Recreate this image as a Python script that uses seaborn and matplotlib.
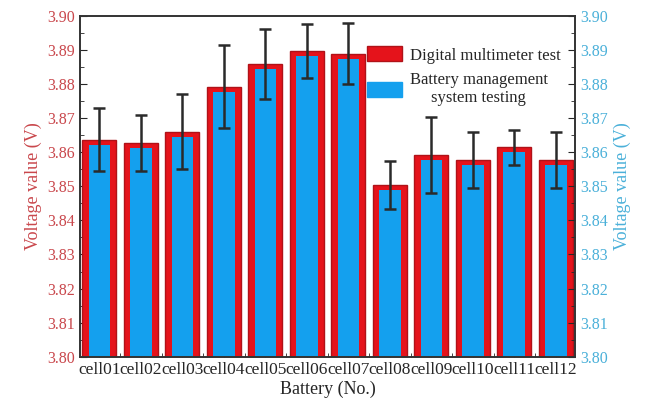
import matplotlib
matplotlib.use("Agg")
import matplotlib.pyplot as plt
from matplotlib.ticker import MultipleLocator, FormatStrFormatter
from matplotlib.patches import Patch
import seaborn as sns
import pandas as pd

# data
cells = ["cell01", "cell02", "cell03", "cell04", "cell05", "cell06",
         "cell07", "cell08", "cell09", "cell10", "cell11", "cell12"]
multimeter = [3.8637, 3.8628, 3.8661, 3.8792, 3.8860, 3.8898,
              3.8890, 3.8505, 3.8592, 3.8577, 3.8615, 3.8577]
bms = [3.8622, 3.8613, 3.8646, 3.8777, 3.8845, 3.8883,
       3.8875, 3.8490, 3.8577, 3.8562, 3.8600, 3.8562]
err = [0.0093, 0.0082, 0.0110, 0.0122, 0.0102, 0.0080,
       0.0090, 0.0071, 0.0111, 0.0083, 0.0051, 0.0082]

df = pd.DataFrame({"Battery": cells, "Multimeter": multimeter, "BMS": bms, "err": err})

sns.set_style("ticks")
plt.rcParams["font.family"] = ["Liberation Serif", "DejaVu Serif"]

red = "#e5131b"
red_edge = "#b01218"
blue = "#14a0ee"
red_txt = "#c9474c"
blue_txt = "#4ab0d9"

fig = plt.figure(figsize=(6.5, 4.03), dpi=100)
ax = fig.add_axes([0.123, 0.115, 0.762, 0.845])

sns.barplot(data=df, x="Battery", y="Multimeter", color=red, width=0.82,
            edgecolor=red_edge, linewidth=1.0, saturation=1, ax=ax)
sns.barplot(data=df, x="Battery", y="BMS", color=blue, width=0.52,
            linewidth=0, saturation=1, ax=ax)
ax.errorbar(range(len(cells)), df["Multimeter"], yerr=df["err"], fmt="none",
            ecolor="#2a2a2a", elinewidth=1.8, capsize=4, capthick=1.8, zorder=5)

ax.set_ylim(3.80, 3.90)
ax.set_xlim(-0.47, 11.47)
ax.yaxis.set_major_locator(MultipleLocator(0.01))
ax.yaxis.set_minor_locator(MultipleLocator(0.005))
ax.xaxis.set_minor_locator(MultipleLocator(0.5))
ax.yaxis.set_major_formatter(FormatStrFormatter("%.2f"))
ax.tick_params(axis="both", which="both", direction="in")
ax.tick_params(axis="y", which="major", length=5, labelsize=11.5, labelcolor=red_txt)
ax.tick_params(axis="y", which="minor", length=3)
ax.tick_params(axis="x", which="major", length=4, labelsize=12.5, pad=4)
ax.tick_params(axis="x", which="minor", length=3)
ax.set_ylabel("Voltage value (V)", color=red_txt, fontsize=13, labelpad=4)
ax.set_xlabel("Battery (No.)", fontsize=13, labelpad=2)

ax2 = ax.twinx()
ax2.set_ylim(3.80, 3.90)
ax2.yaxis.set_major_locator(MultipleLocator(0.01))
ax2.yaxis.set_minor_locator(MultipleLocator(0.005))
ax2.yaxis.set_major_formatter(FormatStrFormatter("%.2f"))
ax2.tick_params(axis="y", which="both", direction="in")
ax2.tick_params(axis="y", which="major", length=5, labelsize=11.5, labelcolor=blue_txt)
ax2.tick_params(axis="y", which="minor", length=3)
ax2.set_ylabel("Voltage value (V)", color=blue_txt, fontsize=13, labelpad=4)

for a in (ax, ax2):
    for s in a.spines.values():
        s.set_color("#333333")
        s.set_linewidth(1.2)

handles = [Patch(facecolor=red, edgecolor=red_edge),
           Patch(facecolor=blue, edgecolor=blue)]
leg = ax.legend(handles, ["Digital multimeter test", "Battery management\nsystem testing"],
                loc="upper left", bbox_to_anchor=(0.55, 0.955), frameon=False,
                fontsize=12, handlelength=2.1, handleheight=1.0, labelspacing=0.5,
                handletextpad=0.45)
for t in leg.get_texts():
    t.set_multialignment("center")

fig.savefig("out.png", dpi=100)
